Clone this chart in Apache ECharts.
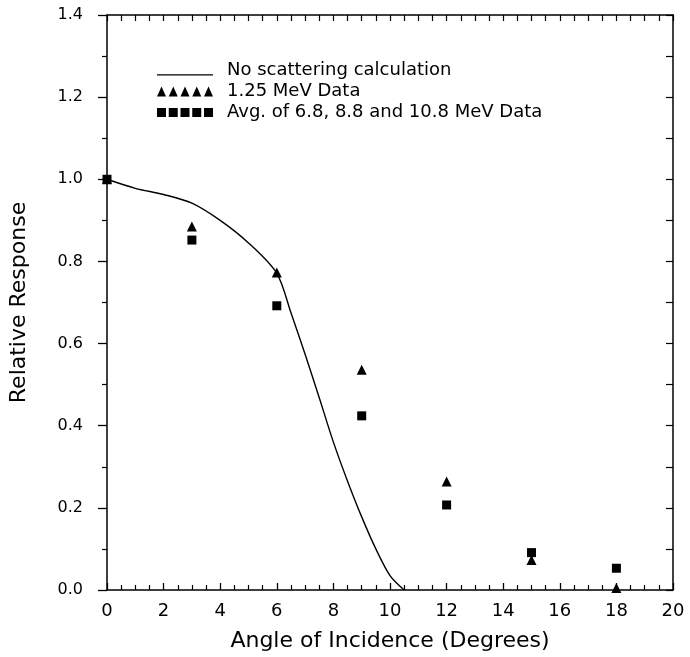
<!DOCTYPE html>
<html lang="en">
<head>
    <meta charset="UTF-8">
    <title>Relative Response vs Angle of Incidence</title>
    <script src="https://cdn.jsdelivr.net/npm/echarts@6/dist/echarts.min.js"></script>
    <style>
        html, body { margin: 0; padding: 0; background: #fff; }
    </style>
</head>
<body>
 <div id="myChart" style="width: 690px;height: 657px;"></div>
 <script>
     // calculation curve (no scattering)
     var calcAngle = [0, 1, 2, 3, 4, 5, 6, 6.5, 7, 7.5, 8, 8.5, 9, 9.5, 10, 10.5];
     var calcResp  = [1.0, 0.978, 0.963, 0.942, 0.90, 0.845, 0.771, 0.675, 0.574, 0.468, 0.36, 0.265, 0.178, 0.10, 0.035, 0.0];

     // measured points
     var dataAngle = [0, 3, 6, 9, 12, 15, 18];
     var resp125   = [1.0, 0.885, 0.773, 0.536, 0.264, 0.073, 0.005];
     var respAvg   = [1.0, 0.852, 0.692, 0.424, 0.207, 0.091, 0.053];

     var seriesNames = ['No scattering calculation', '1.25 MeV Data', 'Avg. of 6.8, 8.8 and 10.8 MeV Data'];

     function pairs(xs, ys) {
         return xs.map(function (x, i) { return [x, ys[i]]; });
     }

     // legend icons: a short line, five triangles, five squares
     var triPath = 'path://', sqPath = 'path://';
     for (var i = 0; i < 5; i++) {
         var x0 = i * 11.75;
         triPath += 'M' + x0 + ',10 L' + (x0 + 4.5) + ',0 L' + (x0 + 9) + ',10 Z ';
         sqPath += 'M' + x0 + ',0.5 L' + (x0 + 9) + ',0.5 L' + (x0 + 9) + ',9.5 L' + x0 + ',9.5 Z ';
     }
     var linePath = 'path://M0,0 L0.05,0 L0,0.05 Z M0,8.8 L56,8.8 L56,10 L0,10 Z';

     var ink = '#000';
     var font = 'DejaVu Sans';

     var option = {
         backgroundColor: '#fff',
         animation: false,
         textStyle: { fontFamily: font, color: ink },
         grid: { left: 102, right: 17, top: 15, bottom: 67 },
         legend: {
             orient: 'vertical',
             left: 152,
             top: 56,
             itemWidth: 56,
             itemHeight: 10,
             itemGap: 2,
             textStyle: { fontFamily: font, fontSize: 18, color: ink, padding: [0, 0, 0, 9], lineHeight: 19 },
             data: [
                 { name: seriesNames[0], icon: linePath, itemStyle: { color: ink, borderWidth: 0 } },
                 { name: seriesNames[1], icon: triPath, itemStyle: { color: ink, borderWidth: 0 } },
                 { name: seriesNames[2], icon: sqPath, itemStyle: { color: ink, borderWidth: 0 } }
             ]
         },
         xAxis: [
             {
                 type: 'value', min: 0, max: 20, interval: 2, position: 'bottom',
                 name: 'Angle of Incidence (Degrees)', nameLocation: 'middle', nameGap: 40,
                 nameTextStyle: { fontFamily: font, fontSize: 22, color: ink },
                 axisLine: { onZero: false, lineStyle: { color: ink, width: 1.5 } },
                 axisTick: { inside: true, length: 7, lineStyle: { color: ink, width: 1.3 } },
                 minorTick: { show: true, splitNumber: 4, length: 5, lineStyle: { color: ink, width: 1.2 } },
                 axisLabel: { fontFamily: font, fontSize: 18, color: ink, margin: 12 },
                 splitLine: { show: false }
             },
             {
                 type: 'value', min: 0, max: 20, interval: 2, position: 'top',
                 axisLine: { onZero: false, lineStyle: { color: ink, width: 1.5 } },
                 axisTick: { inside: true, length: 6, lineStyle: { color: ink, width: 1.2 } },
                 minorTick: { show: true, splitNumber: 4, length: 6, lineStyle: { color: ink, width: 1.2 } },
                 axisLabel: { show: false },
                 splitLine: { show: false }
             }
         ],
         yAxis: [
             {
                 type: 'value', min: 0, max: 1.4, interval: 0.2, position: 'left',
                 name: 'Relative Response', nameLocation: 'middle', nameGap: 77,
                 nameTextStyle: { fontFamily: font, fontSize: 22, color: ink },
                 axisLine: { onZero: false, lineStyle: { color: ink, width: 1.5 } },
                 axisTick: { inside: false, length: 9, lineStyle: { color: ink, width: 1.3 } },
                 minorTick: { show: true, splitNumber: 2, length: 5, lineStyle: { color: ink, width: 1.2 } },
                 axisLabel: {
                     fontFamily: font, fontSize: 16, color: ink, margin: 24,
                     formatter: function (v) { return v.toFixed(1); }
                 },
                 splitLine: { show: false }
             },
             {
                 type: 'value', min: 0, max: 1.4, interval: 0.2, position: 'right',
                 axisLine: { onZero: false, lineStyle: { color: ink, width: 1.5 } },
                 axisTick: { inside: true, length: 7, lineStyle: { color: ink, width: 1.2 } },
                 minorTick: { show: true, splitNumber: 2, length: 7, lineStyle: { color: ink, width: 1.2 } },
                 axisLabel: { show: false },
                 splitLine: { show: false }
             }
         ],
         series: [
             {
                 name: seriesNames[0],
                 type: 'line',
                 data: pairs(calcAngle, calcResp),
                 smooth: 0.3,
                 showSymbol: false,
                 symbol: 'none',
                 color: ink,
                 lineStyle: { color: ink, width: 1.4 }
             },
             {
                 name: seriesNames[1],
                 type: 'scatter',
                 data: pairs(dataAngle, resp125),
                 symbol: 'triangle',
                 symbolSize: 10,
                 itemStyle: { color: ink, opacity: 1 }
             },
             {
                 name: seriesNames[2],
                 type: 'scatter',
                 data: pairs(dataAngle, respAvg),
                 symbol: 'rect',
                 symbolSize: 9,
                 itemStyle: { color: ink, opacity: 1 }
             }
         ]
     };

     var myChart = echarts.init(document.getElementById('myChart'));
     myChart.setOption(option);
 </script>
</body>
</html>
